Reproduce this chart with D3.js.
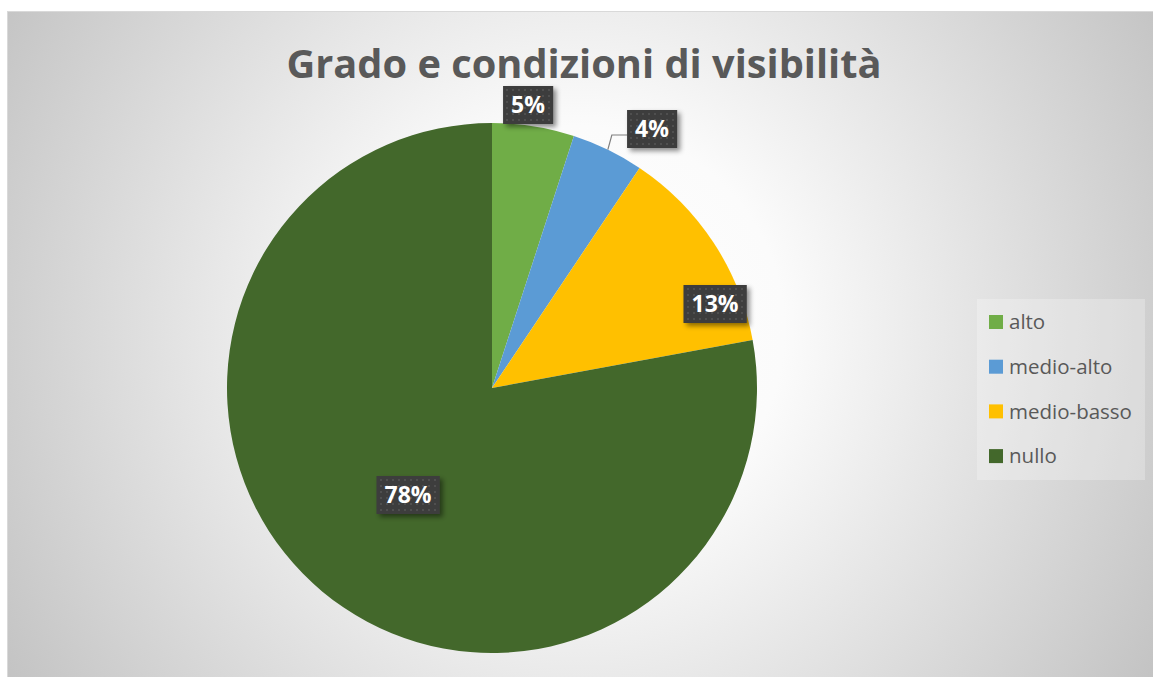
<!DOCTYPE html>
<html>
<head>
<meta charset="utf-8">
<script src="https://cdn.jsdelivr.net/npm/d3@7"></script>
<style>
  body { margin: 0; background: #fff; }
  svg text { font-family: "Open Sans", "Noto Sans", sans-serif; }
</style>
</head>
<body>
<div id="chart"></div>
<script>
// データ
const categories = ["alto", "medio-alto", "medio-basso", "nullo"];
const values = [5.0, 4.4, 12.7, 77.9];
const colors = ["#70ad47", "#5b9bd5", "#ffc000", "#43682b"];
const labelTexts = ["5%", "4%", "13%", "78%"];

const width = 1153;
const height = 677;

const svg = d3.select("#chart").append("svg")
  .attr("width", width)
  .attr("height", height);

const defs = svg.append("defs");

// 背景のグラデーション
const grad = defs.append("radialGradient")
  .attr("id", "bg")
  .attr("gradientUnits", "userSpaceOnUse")
  .attr("cx", 580).attr("cy", 330).attr("r", 680);
grad.append("stop").attr("offset", 0).attr("stop-color", "#ffffff");
grad.append("stop").attr("offset", 0.3).attr("stop-color", "#fbfbfb");
grad.append("stop").attr("offset", 1).attr("stop-color", "#c2c2c2");

// ラベルのドット模様
const pat = defs.append("pattern")
  .attr("id", "dots")
  .attr("patternUnits", "userSpaceOnUse")
  .attr("width", 6).attr("height", 6);
pat.append("rect").attr("width", 6).attr("height", 6).attr("fill", "#3d3d3d");
pat.append("circle").attr("cx", 3).attr("cy", 3).attr("r", 1).attr("fill", "#555");

const shadow = defs.append("filter").attr("id", "shadow")
  .attr("x", "-20%").attr("y", "-20%").attr("width", "150%").attr("height", "160%");
shadow.append("feDropShadow")
  .attr("dx", 3).attr("dy", 3).attr("stdDeviation", 2.5)
  .attr("flood-color", "#000").attr("flood-opacity", 0.45);

// チャート領域
svg.append("rect")
  .attr("x", 7.5).attr("y", 11.5)
  .attr("width", width).attr("height", height)
  .attr("fill", "url(#bg)")
  .attr("stroke", "#d9d9d9");

// タイトル
const title = svg.append("text")
  .attr("x", 584).attr("y", 78)
  .attr("text-anchor", "middle")
  .attr("font-weight", "bold")
  .attr("font-size", 40)
  .attr("fill", "#595959")
  .text("Grado e condizioni di visibilità");
const tw = title.node().getComputedTextLength();
title.attr("font-size", 40 * 595 / tw);

// 円グラフ
const cx = 492, cy = 388, r = 265;
const pie = d3.pie().sort(null).value(d => d);
const arcs = pie(values);
const arc = d3.arc().innerRadius(0).outerRadius(r);

const g = svg.append("g").attr("transform", `translate(${cx},${cy})`);
g.selectAll("path")
  .data(arcs)
  .join("path")
  .attr("d", arc)
  .attr("fill", (d, i) => colors[i]);

// ラベル位置（ボックス中心、中心からの相対位置）
const labelPos = [[36, -283], [160, -259], [223, -84], [-84, 107]];

// medio-alto のリーダー線
const a1 = (arcs[1].startAngle + arcs[1].endAngle) / 2;
const ex = r * Math.sin(a1), ey = -r * Math.cos(a1);
g.append("polyline")
  .attr("points", [[ex, ey], [ex + 4, labelPos[1][1] + 6], [labelPos[1][0] - 25, labelPos[1][1] + 6]].join(" "))
  .attr("fill", "none")
  .attr("stroke", "#7f7f7f")
  .attr("stroke-width", 1.2);

const labels = g.selectAll("g.label")
  .data(arcs)
  .join("g")
  .attr("class", "label")
  .attr("transform", (d, i) => `translate(${labelPos[i][0]},${labelPos[i][1]})`);

labels.append("text")
  .attr("text-anchor", "middle")
  .attr("dy", "0.36em")
  .attr("font-weight", "bold")
  .attr("font-size", 23)
  .attr("fill", "#fff")
  .text((d, i) => labelTexts[i])
  .each(function () {
    const bb = this.getBBox();
    d3.select(this.parentNode).insert("rect", "text")
      .attr("x", bb.x - 8).attr("y", -19)
      .attr("width", bb.width + 16).attr("height", 38)
      .attr("fill", "url(#dots)")
      .attr("filter", "url(#shadow)");
  });

// 凡例
svg.append("rect")
  .attr("x", 977).attr("y", 299)
  .attr("width", 168).attr("height", 181)
  .attr("fill", "#ffffff").attr("fill-opacity", 0.25);

const legend = svg.selectAll("g.legend")
  .data(categories)
  .join("g")
  .attr("class", "legend")
  .attr("transform", (d, i) => `translate(989,${322 + i * 44.7})`);

legend.append("rect")
  .attr("x", 0).attr("y", -7)
  .attr("width", 14).attr("height", 14)
  .attr("fill", (d, i) => colors[i]);

legend.append("text")
  .attr("x", 20).attr("dy", "0.35em")
  .attr("font-size", 20.5)
  .attr("fill", "#595959")
  .text(d => d);
</script>
</body>
</html>
